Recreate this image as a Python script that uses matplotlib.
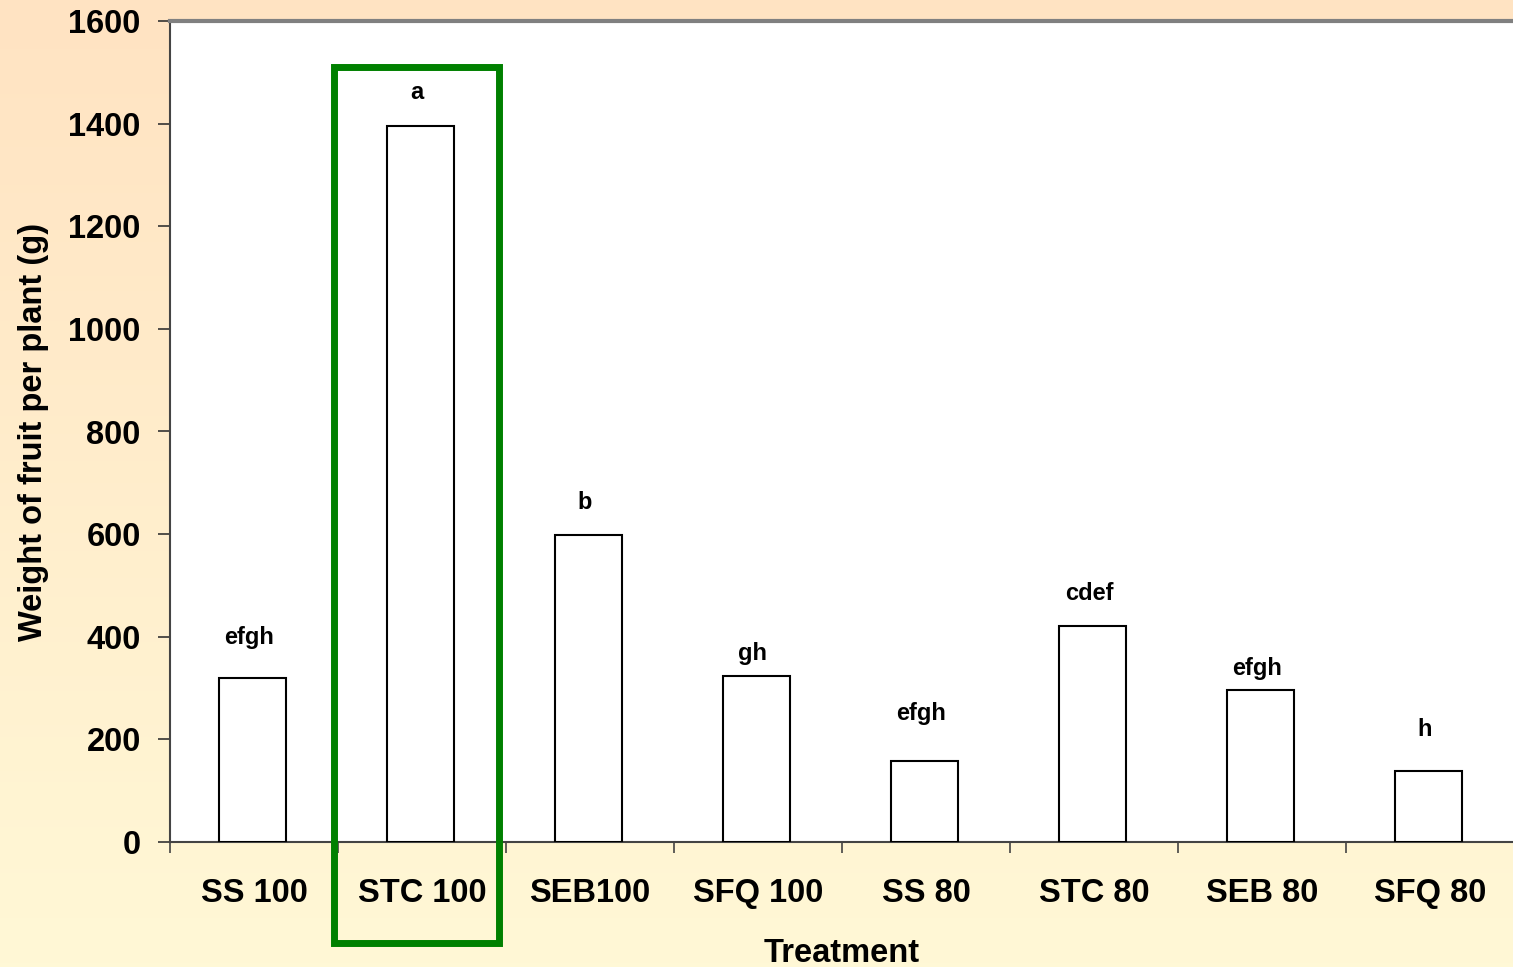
import numpy as np
import matplotlib
matplotlib.use("Agg")
import matplotlib.pyplot as plt
from matplotlib.patches import Rectangle
from matplotlib.ticker import FixedLocator

categories = ["SS 100", "STC 100", "SEB100", "SFQ 100", "SS 80", "STC 80", "SEB 80", "SFQ 80"]
weights = [320, 1396, 598, 324, 158, 421, 296, 138]
letters = ["efgh", "a", "b", "gh", "efgh", "cdef", "efgh", "h"]
letter_heights = [398, 1460, 662, 368, 251, 485, 339, 220]
yticks = [0, 200, 400, 600, 800, 1000, 1200, 1400, 1600]

plt.rcParams['font.family'] = ['Liberation Sans', 'DejaVu Sans']
plt.rcParams['font.weight'] = 'bold'

W, H = 1513, 967
fig = plt.figure(figsize=(W / 100, H / 100), dpi=100)

# gradient background
bg = fig.add_axes([0, 0, 1, 1], zorder=-10)
top = np.array([255, 227, 194]) / 255
bot = np.array([255, 248, 214]) / 255
t = np.linspace(0, 1, 256)[:, None]
grad = top[None, :] * (1 - t) + bot[None, :] * t
bg.imshow(grad[:, None, :], aspect='auto', extent=[0, 1, 0, 1])
bg.set_axis_off()

left = 170 / W
right = 1514 / W
bottom = 1 - 842 / H
topy = 1 - 21 / H
ax = fig.add_axes([left, bottom, right - left, topy - bottom])
ax.set_facecolor('white')

x = np.arange(len(categories))
ax.bar(x - 0.01, weights, width=0.4, color='white', edgecolor='black', linewidth=1.5, zorder=3)
for xi, lab, hy in zip(x, letters, letter_heights):
    ax.text(xi - 0.03, hy, lab, ha='center', va='center', fontsize=17, fontweight='bold', zorder=4)

ax.set_xlim(-0.5, len(categories) - 0.5)
ax.set_ylim(0, 1600)
ax.set_yticks(yticks)
ax.set_yticklabels([str(v) for v in yticks], fontsize=23.5, fontweight='bold')
ax.set_xticks(x)
ax.set_xticklabels(categories, fontsize=23.5, fontweight='bold')
ax.xaxis.set_minor_locator(FixedLocator(np.arange(-0.5, len(categories), 1.0)))
ax.tick_params(axis='x', which='major', length=0, pad=26)
ax.tick_params(axis='x', which='minor', length=8, width=1.2, color='#444444', direction='out')
ax.tick_params(axis='y', which='major', length=9, width=1.2, color='#333333', pad=12)

ax.set_ylabel("Weight of fruit per plant (g)", fontsize=23.5, fontweight='bold', labelpad=14)
ax.set_xlabel("Treatment", fontsize=23.5, fontweight='bold', labelpad=21)

for s in ['left', 'bottom']:
    ax.spines[s].set_color('#444444')
    ax.spines[s].set_linewidth(1.5)
ax.spines['top'].set_color('#808080')
ax.spines['top'].set_linewidth(3)
ax.spines['right'].set_visible(False)

# green highlight box around STC 100
rect = Rectangle((0.475, -196), 1.458 - 0.475, 1510 + 196, fill=False,
                 edgecolor='#008000', linewidth=5, clip_on=False, zorder=6)
ax.add_patch(rect)

fig.savefig("out.png", dpi=100)
